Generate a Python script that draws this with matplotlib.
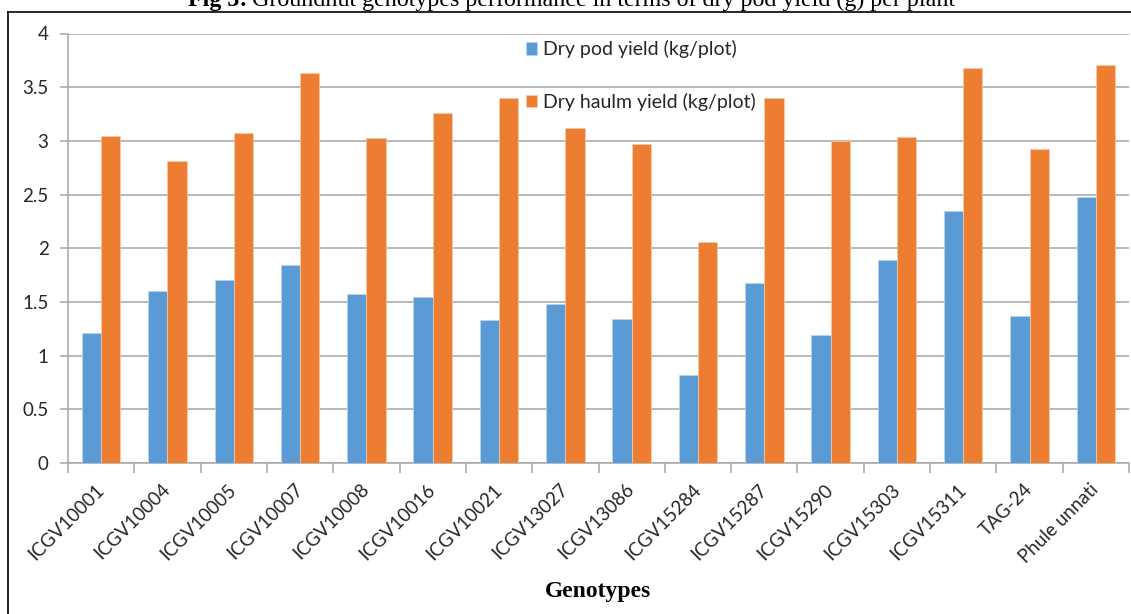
import numpy as np
import matplotlib
matplotlib.use("Agg")
import matplotlib.pyplot as plt
from matplotlib.lines import Line2D

genotypes = ["ICGV10001", "ICGV10004", "ICGV10005", "ICGV10007", "ICGV10008",
             "ICGV10016", "ICGV10021", "ICGV13027", "ICGV13086", "ICGV15284",
             "ICGV15287", "ICGV15290", "ICGV15303", "ICGV15311", "TAG-24",
             "Phule unnati"]
dry_pod_yield = [1.21, 1.60, 1.70, 1.84, 1.57, 1.55, 1.33, 1.48, 1.34, 0.82,
                 1.68, 1.19, 1.89, 2.35, 1.37, 2.48]
dry_haulm_yield = [3.05, 2.81, 3.07, 3.63, 3.03, 3.26, 3.40, 3.12, 2.97, 2.06,
                   3.40, 3.00, 3.04, 3.68, 2.92, 3.71]
y_ticks = [0, 0.5, 1, 1.5, 2, 2.5, 3, 3.5, 4]
y_tick_labels = ["0", "0.5", "1", "1.5", "2", "2.5", "3", "3.5", "4"]

BLUE = "#5B9BD5"
ORANGE = "#ED7D31"
GRID = "#A6A6A6"
TEXT = "#262626"

plt.rcParams["font.family"] = ["Lato", "DejaVu Sans"]

W, H = 1131, 614
fig = plt.figure(figsize=(W / 100, H / 100), dpi=100)
ax_h = 463 - 33.5
ax = fig.add_axes([68 / W, 1 - 463 / H, (1129 - 68) / W, ax_h / H])

x = np.arange(len(genotypes))
bw = 0.29
ax.bar(x - bw / 2, dry_pod_yield, bw, color=BLUE, edgecolor="#BDD7EE",
       linewidth=0.5, label="Dry pod yield (kg/plot)", zorder=3)
ax.bar(x + bw / 2, dry_haulm_yield, bw, color=ORANGE, edgecolor="#F8CBAD",
       linewidth=0.5, label="Dry haulm yield (kg/plot)", zorder=3)

ax.set_xlim(-0.5, len(genotypes) - 0.5)
ax.set_ylim(0, 4)

ax.set_yticks(y_ticks)
ax.set_yticklabels(y_tick_labels, fontsize=13.5, color=TEXT)
ax.yaxis.grid(True, color=GRID, linewidth=1.1, zorder=0)
ax.tick_params(axis="y", length=6, width=1.1, color=GRID, pad=8)

# category labels at centres, tick marks at category boundaries
ax.set_xticks(x)
ax.set_xticklabels(genotypes, fontsize=13.5, color=TEXT, rotation=45,
                   ha="right", va="center", rotation_mode="anchor")
ax.set_xticks(np.arange(len(genotypes) + 1) - 0.5, minor=True)
ax.tick_params(axis="x", which="major", length=0, pad=17)
ax.tick_params(axis="x", which="minor", length=7, width=1.1, color=GRID)

for side in ("top", "right"):
    ax.spines[side].set_visible(False)
for side in ("left", "bottom"):
    ax.spines[side].set_color(GRID)
    ax.spines[side].set_linewidth(1.1)

leg = ax.legend(loc="upper left",
                bbox_to_anchor=((514 - 68) / (1129 - 68), 1 + 5 / ax_h),
                frameon=False, fontsize=14, labelspacing=1.78,
                handlelength=0.6, handleheight=0.6, handletextpad=0.3,
                borderaxespad=0.2)
for t in leg.get_texts():
    t.set_color(TEXT)

fig.text(598 / W, 1 - 591 / H, "Genotypes", family="Liberation Serif",
         fontweight="bold", fontsize=17, ha="center", va="center", color="black")

# page caption, partly cut by the top edge
cap_y = 1 - 6 / H
fig.text(247 / W, cap_y, "Fig 3:", family="Liberation Serif", fontweight="bold",
         fontsize=17.3, ha="right", va="baseline", color="black")
fig.text(252 / W, cap_y,
         "Groundnut genotypes performance in terms of dry pod yield (g) per plant",
         family="Liberation Serif", fontsize=17.3, ha="left", va="baseline",
         color="black")

# outer frame of the figure panel
fig.add_artist(Line2D([8 / W, 1.0], [1 - 12 / H, 1 - 12 / H], color="black",
                      linewidth=1.2, transform=fig.transFigure))
fig.add_artist(Line2D([8 / W, 8 / W], [0, 1 - 12 / H], color="black",
                      linewidth=1.2, transform=fig.transFigure))

fig.savefig("out.png", dpi=100)
